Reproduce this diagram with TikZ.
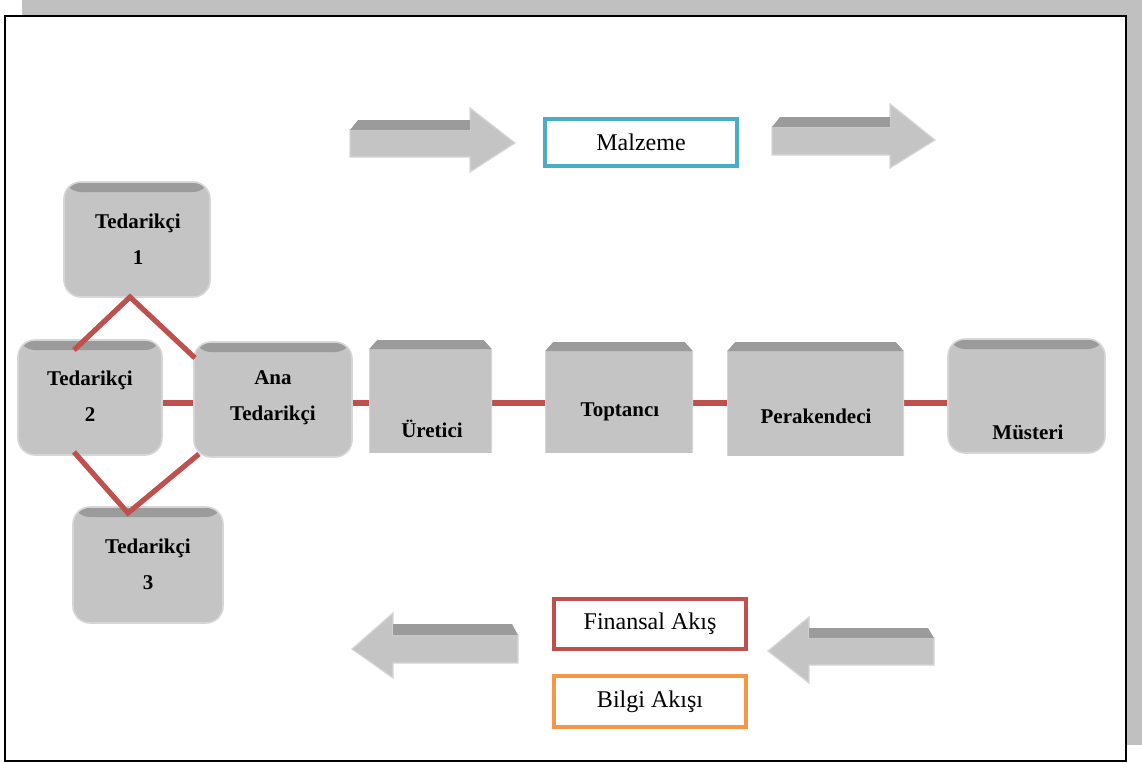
\documentclass[tikz,border=0pt]{standalone}
\usepackage{fontspec}
\setmainfont{Liberation Serif}
\usetikzlibrary{backgrounds}
\definecolor{face}{HTML}{C4C4C4}
\definecolor{band}{HTML}{9B9B9B}
\definecolor{edge}{HTML}{D6D6D6}
\definecolor{shadow}{HTML}{C0C0C0}
\definecolor{redline}{HTML}{C0504D}
\definecolor{blueline}{HTML}{4BACC6}
\definecolor{orangeline}{HTML}{F79646}
\begin{document}
\begin{tikzpicture}[x=0.5pt,y=-0.5pt,
  rbox/.style={rounded corners=8.5pt, fill=face, draw=edge, line width=0.8pt, inner sep=0pt,
    path picture={\fill[band] (path picture bounding box.north west) rectangle ([yshift=-5pt]path picture bounding box.north east);}},
  sbox/.style={fill=face, inner sep=0pt,
    path picture={
      \fill[band] ([xshift=4pt]path picture bounding box.north west) -- ([xshift=-4pt]path picture bounding box.north east) -- ([yshift=-4.5pt]path picture bounding box.north east) -- ([yshift=-4.5pt]path picture bounding box.north west) -- cycle;
      \fill[white] (path picture bounding box.north west) -- ([xshift=4pt]path picture bounding box.north west) -- ([yshift=-4.5pt]path picture bounding box.north west) -- cycle;
      \fill[white] (path picture bounding box.north east) -- ([xshift=-4pt]path picture bounding box.north east) -- ([yshift=-4.5pt]path picture bounding box.north east) -- cycle;
      \draw[edge, line width=1.2pt] (path picture bounding box.south west) -- ([yshift=-4.5pt]path picture bounding box.north west);
      \draw[edge, line width=1.2pt] (path picture bounding box.south east) -- ([yshift=-4.5pt]path picture bounding box.north east);}},
  lbl/.style={font=\bfseries\fontsize{10.5}{18}\selectfont, align=center, inner sep=0pt},
  flow/.style={draw, line width=2pt, fill=white, inner sep=0pt, minimum width=96pt, font=\fontsize{12}{14}\selectfont},
  link/.style={draw=redline, line width=2.6pt},
  arrface/.style={fill=face, draw=edge, line width=0.6pt},
  arrband/.style={fill=band}
]
\useasboundingbox (0,0) rectangle (1142,762);

% boxes
\node[rbox, minimum width=73pt, minimum height=57.5pt] (T1) at (137,239.5) {};
\node[rbox, minimum width=72pt, minimum height=57.5pt] (T2) at (90,397.5) {};
\node[rbox, minimum width=79pt, minimum height=57.5pt] (Ana) at (273,399.5) {};
\node[sbox, minimum width=61.5pt, minimum height=56.5pt] (Ure) at (430.5,396.5) {};
\node[sbox, minimum width=74pt, minimum height=55.5pt] (Top) at (619,397.5) {};
\node[sbox, minimum width=88.5pt, minimum height=57pt] (Per) at (815.5,399) {};
\node[rbox, minimum width=78.5pt, minimum height=57pt] (Mus) at (1026.5,396) {};
\node[rbox, minimum width=75pt, minimum height=58pt] (T3) at (148,565) {};

% labels
\node[lbl] (lT1) at (138,239) {Tedarikçi\\1};
\node[lbl] (lT2) at (90,396) {Tedarikçi\\2};
\node[lbl] (lAna) at (273,398) {Ana\\Tedarikçi};
\node[lbl] (lUre) at (432,429) {Üretici};
\node[lbl] (lTop) at (620,412) {Toptancı};
\node[lbl] (lPer) at (816,416) {Perakendeci};
\node[lbl] (lMus) at (1028,432) {Müsteri};
\node[lbl] (lT3) at (148,564) {Tedarikçi\\3};

% frame (background) and connectors
\coordinate (rail) at (0,403);
\coordinate (d1) at (74,350);
\coordinate (d2) at (130,297);
\coordinate (d3) at (195,358);
\coordinate (d4) at (74,452);
\coordinate (d5) at (128,513);
\coordinate (d6) at (199,454);
\begin{scope}[on background layer]
\fill[shadow] (22,0) rectangle (1142,745);
\draw[fill=white, line width=1pt] (5,16) rectangle (1126,761);
\draw[link] (T2.east |- rail) -- (Ana.west |- rail);
\draw[link] (Ana.east |- rail) -- (Ure.west |- rail);
\draw[link] (Ure.east |- rail) -- (Top.west |- rail);
\draw[link] (Top.east |- rail) -- (Per.west |- rail);
\draw[link] (Per.east |- rail) -- (Mus.west |- rail);
\end{scope}
\draw[link, line join=miter] (d1) -- (d2) -- (d3);
\draw[link, line join=miter] (d4) -- (d5) -- (d6);

% arrows top
\draw[arrface] (350,130) -- (470,130) -- (470,108) -- (515,143) -- (470,172) -- (470,157) -- (350,157) -- cycle;
\fill[arrband] (358,120) -- (470,120) -- (470,130) -- (350,130) -- cycle;
\draw[arrface] (772,127) -- (890,127) -- (890,104) -- (935,140) -- (890,168) -- (890,155) -- (772,155) -- cycle;
\fill[arrband] (780,117) -- (890,117) -- (890,127) -- (772,127) -- cycle;
% arrows bottom
\draw[arrface] (518,635) -- (393,635) -- (393,613) -- (352,649) -- (393,678) -- (393,663) -- (518,663) -- cycle;
\fill[arrband] (393,624) -- (512,624) -- (518,635) -- (393,635) -- cycle;
\draw[arrface] (934,638) -- (809,638) -- (809,617) -- (768,651) -- (809,683) -- (809,665) -- (934,665) -- cycle;
\fill[arrband] (809,628) -- (928,628) -- (934,638) -- (809,638) -- cycle;

% flow labels
\node[flow, draw=blueline, minimum height=23.5pt] (mal) at (641,142.5) {Malzeme};
\node[flow, draw=redline, minimum height=25pt] (fin) at (650,624) {Finansal Akış};
\node[flow, draw=orangeline, minimum height=25.5pt] (bil) at (650,701.5) {Bilgi Akışı};
\end{tikzpicture}
\end{document}
